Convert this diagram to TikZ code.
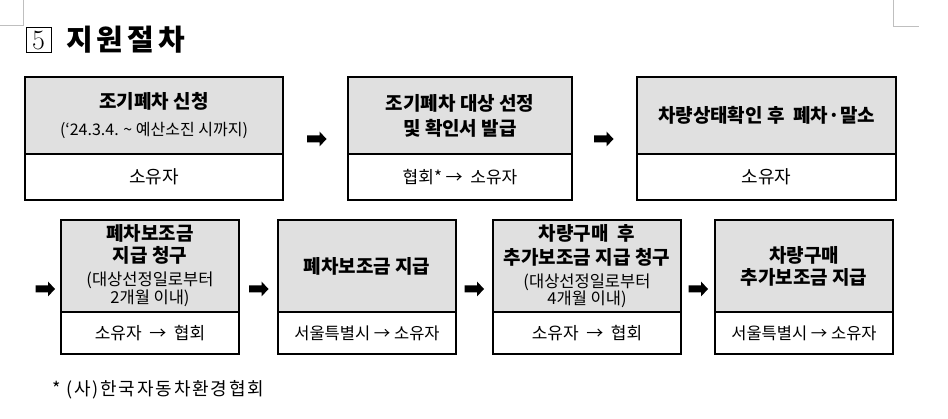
\documentclass[tikz,border=0pt]{standalone}
\usepackage{fontspec}
\setmainfont{Noto Sans CJK KR}
\newfontfamily\lmfont{Latin Modern Roman}
\definecolor{boxgray}{HTML}{E0E0E0}
\newcommand\bt{\bfseries\fontsize{19}{22}\selectfont}
\newcommand\st{\mdseries\fontsize{16}{18}\selectfont}
\newcommand\stt{\mdseries\fontsize{16.5}{18}\selectfont}
\begin{document}
\begin{tikzpicture}[x=1pt,y=-1pt,
  boxbase/.style={draw=black, line width=2.4pt, anchor=north west, inner sep=0pt, outer sep=0pt, align=center},
  topbox/.style={boxbase, fill=boxgray, font=\bfseries\fontsize{19}{22}\selectfont},
  botbox/.style={boxbase, fill=white, font=\fontsize{17}{20}\selectfont},
  cornermark/.style={draw=black!25, line width=0.8pt},
  barrow/.pic={\fill[black] (-9.5,-3.5) -- (3,-3.5) -- (3,-7.5) -- (10,0) -- (3,7.5) -- (3,3.5) -- (-9.5,3.5) -- cycle;}
]
\useasboundingbox (0,0) rectangle (948,419);
% page corner marks
\draw[cornermark] (23,0) -- (23,25) -- (0,25);
\draw[cornermark] (893,0) -- (893,26) -- (919,26);
% heading
\node[draw=black, line width=0.6pt, minimum size=25pt, inner sep=0pt, font=\lmfont\fontsize{28}{28}\selectfont] (num) at (38.5,40) {5};
\node[anchor=west, inner sep=0pt, font=\bfseries\fontsize{29}{30}\selectfont\addfontfeature{LetterSpace=14}] (title) at (66,40) {지원절차};
% row 1
\node[topbox, minimum width=258pt, minimum height=77pt] (b1t) at (25,77) {{\bt 조기폐차 신청}\\[5pt]{\st (‘24.3.4. \textasciitilde{} 예산소진 시까지)}};
\node[botbox, minimum width=258pt, minimum height=46pt, font=\fontsize{18}{20}\selectfont] (b1b) at (b1t.south west) {소유자};
\node[topbox, minimum width=224pt, minimum height=77pt] (b2t) at (348,77) {{\bt 조기폐차 대상 선정}\\[3pt]{\bt 및 확인서 발급}};
\node[botbox, minimum width=224pt, minimum height=46pt] (b2b) at (b2t.south west) {협회* → \ 소유자};
\node[topbox, minimum width=259pt, minimum height=77pt] (b3t) at (637,77) {{\bt 차량상태확인 후\ \ 폐차·말소}};
\node[botbox, minimum width=259pt, minimum height=46pt, font=\fontsize{18}{20}\selectfont] (b3b) at (b3t.south west) {소유자};
\coordinate (a1) at (316.5,139);
\coordinate (a2) at (603.5,139);
\pic at (a1) {barrow};
\pic at (a2) {barrow};
% row 2
\node[topbox, minimum width=178pt, minimum height=92pt] (b4t) at (61,220) {{\bt 폐차보조금}\\{\bt 지급 청구}\\[1pt]{\stt (대상선정일로부터}\\[-4pt]{\stt 2개월 이내)}};
\node[botbox, minimum width=178pt, minimum height=42pt] (b4b) at (b4t.south west) {소유자 \ → \ 협회};
\node[topbox, minimum width=178pt, minimum height=92pt] (b5t) at (278,220) {{\bt 폐차보조금 지급}};
\node[botbox, minimum width=178pt, minimum height=42pt, font=\fontsize{16.5}{20}\selectfont] (b5b) at (b5t.south west) {서울특별시 → 소유자};
\node[topbox, minimum width=188pt, minimum height=92pt] (b6t) at (493,220) {{\bt 차량구매\ \ 후}\\[2pt]{\bt 추가보조금 지급 청구}\\[1pt]{\stt (대상선정일로부터}\\[-5pt]{\stt 4개월 이내)}};
\node[botbox, minimum width=188pt, minimum height=42pt] (b6b) at (b6t.south west) {소유자 \ → \ 협회};
\node[topbox, minimum width=178pt, minimum height=92pt] (b7t) at (715,220) {{\bt 차량구매}\\{\bt 추가보조금 지급}};
\node[botbox, minimum width=178pt, minimum height=42pt, font=\fontsize{16.5}{20}\selectfont] (b7b) at (b7t.south west) {서울특별시 → 소유자};
\coordinate (a3) at (45,289);
\coordinate (a4) at (258.5,289);
\coordinate (a5) at (474,289);
\coordinate (a6) at (698,289);
\pic at (a3) {barrow};
\pic at (a4) {barrow};
\pic at (a5) {barrow};
\pic at (a6) {barrow};
% footnote
\node[anchor=west, inner sep=0pt, font=\fontsize{18}{20}\selectfont\addfontfeature{LetterSpace=10}] (note) at (52,390) {* (사)한국자동차환경협회};
\end{tikzpicture}
\end{document}
